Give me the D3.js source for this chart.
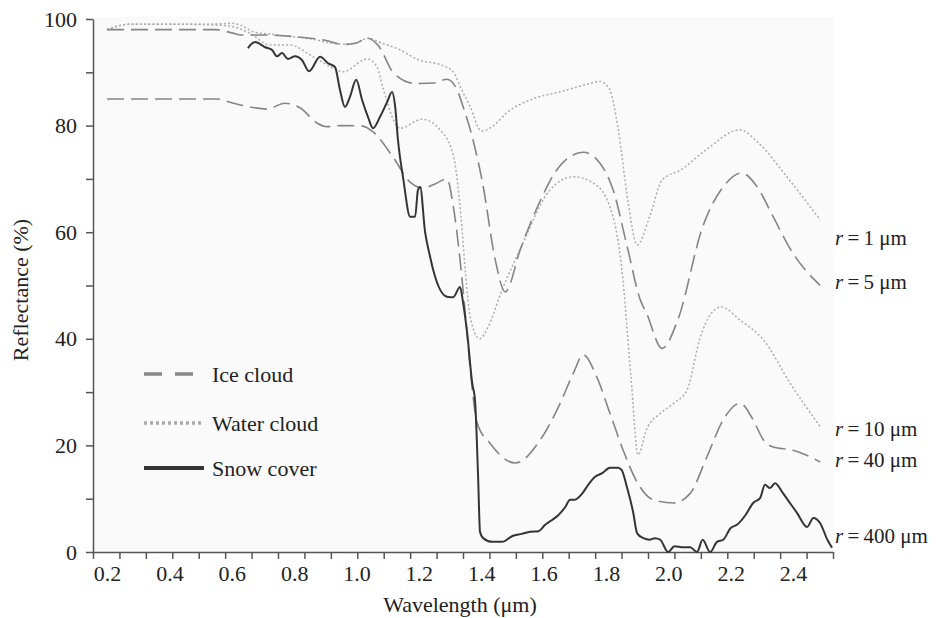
<!DOCTYPE html>
<meta charset="utf-8">

<!-- Load d3.js -->
<script src="https://d3js.org/d3.v7.min.js"></script>

<style>
body { margin: 0; background: #ffffff; }
text { font-family: "Liberation Serif", "Times New Roman", serif; fill: #222; }
</style>

<!-- Create a div where the graph will take place -->
<div id="my_dataviz"></div>

<script>

// ---- data (wavelength in um, reflectance in %) ----

// water cloud, r = 1 um
var r1Wl  = [0.2, 0.27, 0.35, 0.45, 0.57, 0.6, 0.63, 0.67, 0.75, 0.85, 0.95, 1.0, 1.035, 1.08, 1.14, 1.2, 1.27, 1.31, 1.335, 1.365, 1.4, 1.44, 1.48, 1.57, 1.65, 1.73, 1.78, 1.81, 1.84, 1.87, 1.9, 1.94, 1.98, 2.04, 2.12, 2.23, 2.29, 2.38, 2.487];
var r1Val = [98, 99, 99, 99, 99.1, 99.2, 98.8, 97.6, 97, 96.3, 95.3, 95.5, 96.4, 95.5, 94.2, 92.3, 91.4, 90.1, 87, 83.5, 79, 80, 82.3, 85.1, 86.3, 87.6, 88.3, 87, 79, 66, 57.6, 62.9, 69.8, 71.7, 75.4, 79.2, 76.7, 70.4, 62.3];

// ice cloud, r = 5 um
var r5Wl  = [0.2, 0.3, 0.4, 0.5, 0.55, 0.6, 0.63, 0.7, 0.8, 0.9, 0.96, 1.0, 1.035, 1.07, 1.12, 1.19, 1.25, 1.29, 1.32, 1.345, 1.375, 1.405, 1.445, 1.477, 1.525, 1.59, 1.65, 1.727, 1.78, 1.823, 1.868, 1.91, 1.93, 1.98, 2.03, 2.11, 2.176, 2.236, 2.285, 2.336, 2.4, 2.487];
var r5Val = [98, 98, 98, 98, 98, 97.4, 97, 97, 96.7, 96, 95.2, 95.5, 96.4, 95, 89.8, 87.9, 88, 88.7, 87, 83, 77, 69, 54.8, 48.8, 56.7, 66, 72.3, 75, 73, 67.9, 57.3, 47.3, 44.8, 38.2, 43.5, 61, 68.5, 71.1, 68.5, 62.9, 56, 50];

// water cloud, r = 10 um
var r10Wl  = [0.2, 0.27, 0.35, 0.45, 0.57, 0.62, 0.659, 0.723, 0.787, 0.861, 0.925, 0.957, 1.034, 1.066, 1.085, 1.14, 1.21, 1.268, 1.31, 1.335, 1.35, 1.365, 1.395, 1.42, 1.467, 1.53, 1.62, 1.695, 1.76, 1.813, 1.85, 1.88, 1.903, 1.93, 1.974, 2.017, 2.06, 2.1, 2.134, 2.17, 2.23, 2.305, 2.39, 2.487];
var r10Val = [98, 99, 99, 99, 98.8, 98.3, 97.3, 95.1, 95.1, 92.9, 90.8, 90.1, 92.5, 91, 87, 79.5, 81.2, 79.2, 74.5, 63, 52, 44, 40, 42, 49.2, 57.5, 67.9, 70.4, 69.2, 64.7, 53.5, 33, 18.2, 23, 26, 27.9, 30.4, 39.8, 44.5, 46, 43.5, 39.8, 31.7, 23.5];

// ice cloud, r = 40 um
var r40Wl  = [0.2, 0.3, 0.4, 0.5, 0.55, 0.605, 0.65, 0.713, 0.77, 0.82, 0.873, 0.905, 0.95, 1.02, 1.053, 1.117, 1.172, 1.214, 1.25, 1.29, 1.31, 1.332, 1.35, 1.364, 1.387, 1.428, 1.509, 1.589, 1.653, 1.695, 1.727, 1.77, 1.813, 1.855, 1.9, 1.951, 2.017, 2.07, 2.124, 2.176, 2.23, 2.272, 2.305, 2.336, 2.4, 2.487];
var r40Val = [85, 85, 85, 85, 85, 84.2, 83.6, 83.1, 84.2, 83.3, 80.5, 79.8, 80, 79.9, 78.8, 74.1, 69.4, 68.3, 69, 70, 65, 54.8, 44, 34.7, 24.2, 20.4, 16.7, 21, 27.9, 33.5, 37, 32.9, 26, 19.1, 13.1, 9.8, 9.2, 11, 17.9, 24.8, 27.9, 24.8, 21, 19.7, 19.1, 16.9];

// snow cover, r = 400 um
var snowWl  = [0.652, 0.659, 0.675, 0.707, 0.729, 0.745, 0.761, 0.78, 0.803, 0.825, 0.848, 0.883, 0.909, 0.931, 0.947, 0.963, 0.979, 0.999, 1.018, 1.037, 1.053, 1.075, 1.098, 1.114, 1.124, 1.133, 1.15, 1.172, 1.188, 1.197, 1.204, 1.22, 1.236, 1.246, 1.29, 1.31, 1.332, 1.342, 1.355, 1.371, 1.38, 1.39, 1.396, 1.406, 1.435, 1.467, 1.5, 1.53, 1.557, 1.583, 1.605, 1.627, 1.647, 1.669, 1.685, 1.7, 1.723, 1.743, 1.765, 1.788, 1.813, 1.839, 1.85, 1.868, 1.887, 1.9, 1.92, 1.94, 1.957, 1.974, 1.999, 2.02, 2.047, 2.07, 2.092, 2.11, 2.134, 2.156, 2.176, 2.2, 2.22, 2.247, 2.272, 2.294, 2.31, 2.326, 2.342, 2.368, 2.39, 2.413, 2.445, 2.465, 2.487, 2.51, 2.525];
var snowVal = [94.5, 95.1, 95.7, 94.7, 94.2, 93, 93.6, 92.5, 93, 92.3, 90.2, 92.9, 91.7, 91, 86.7, 83.5, 85.4, 88.6, 84.8, 81.6, 79.5, 81.6, 84.4, 86.3, 83.5, 77.3, 70, 62.9, 62.9, 67.9, 68.5, 60, 55.4, 52.9, 47.9, 47.8, 49.7, 46.7, 41, 31.7, 28.5, 14, 3.8, 2.6, 1.9, 1.9, 3, 3.4, 3.8, 3.9, 5.1, 6, 6.9, 8.4, 9.8, 9.8, 10.9, 12.6, 14.1, 14.8, 15.8, 15.8, 15.4, 12, 7.5, 3.5, 2.6, 2.3, 2.6, 2.3, 0, 1.1, 0.9, 0.9, 0, 2.3, 0, 1.9, 2.3, 4.5, 5.1, 6.9, 9.2, 10.1, 12.6, 12, 12.9, 11, 9.2, 7.3, 4.7, 6.4, 5.4, 2.3, 0.8];

// axis labels
var xTickLabels = [0.2, 0.4, 0.6, 0.8, 1.0, 1.2, 1.4, 1.6, 1.8, 2.0, 2.2, 2.4];
var yTickLabels = [0, 20, 40, 60, 80, 100];
var yMinorTicks = [10, 30, 50, 70, 90];
var xRange = [0.155, 2.528];   // axis runs between these wavelengths
var xTickCount = 28;           // evenly spaced tick marks along it

// right-hand size labels (baseline, in % units)
var sizeLabels = ["1", "5", "10", "40", "400"];
var sizeLabelY = [57.6, 49.3, 21.8, 15.9, 1.7];

// legend entries
var legendNames = ["Ice cloud", "Water cloud", "Snow cover"];


// set the dimensions and margins of the graph
var margin = {top: 19, right: 103, bottom: 66, left: 93},
    width = 936 - margin.left - margin.right,
    height = 618 - margin.top - margin.bottom;

var svgRoot = d3.select("#my_dataviz")
  .append("svg")
    .attr("width", 936)
    .attr("height", 618);

var svg = svgRoot.append("g")
    .attr("transform", "translate(" + margin.left + "," + margin.top + ")");

// faint plot background
svg.append("rect")
  .attr("x", 0).attr("y", -2)
  .attr("width", width).attr("height", height + 2)
  .attr("fill", "#fafafa");

// scales
var x = d3.scaleLinear().domain(xRange).range([0, width]);
var y = d3.scaleLinear().domain([0, 100]).range([height, 0]);

// X axis: tick marks and labels are not aligned in the original
var xTicks = d3.range(xTickCount + 1).map(function(i) {
  return xRange[0] + i * (xRange[1] - xRange[0]) / xTickCount;
});
svg.append("g")
  .attr("transform", "translate(0," + height + ")")
  .call(d3.axisBottom(x).tickValues(xTicks).tickSize(7).tickSizeOuter(0).tickFormat(""));

svg.append("g")
  .attr("transform", "translate(0," + height + ")")
  .call(d3.axisBottom(x).tickValues(xTickLabels).tickSize(0).tickPadding(13)
        .tickFormat(d3.format(".1f")))
  .call(function(g) { g.select(".domain").remove(); });

// Y axis
svg.append("g")
  .call(d3.axisLeft(y).tickValues(yTickLabels).tickSize(7).tickSizeOuter(0).tickPadding(9));

svg.append("g")
  .call(d3.axisLeft(y).tickValues(yMinorTicks).tickSize(7).tickFormat(""))
  .call(function(g) { g.select(".domain").remove(); });

svg.selectAll(".domain, .tick line")
  .attr("stroke", "#555")
  .attr("stroke-width", 1.5);

svg.selectAll(".tick text")
  .style("font-family", "'Liberation Serif', serif")
  .style("font-size", "22px")
  .attr("fill", "#222");

// axis titles
svgRoot.append("text")
  .attr("text-anchor", "middle")
  .attr("x", 460)
  .attr("y", 612)
  .style("font-size", "22px")
  .text("Wavelength (\u03bcm)");

svgRoot.append("text")
  .attr("text-anchor", "middle")
  .attr("transform", "translate(28,290) rotate(-90)")
  .style("font-size", "22px")
  .text("Reflectance (%)");

// line styles
var styles = {
  ice:   {stroke: "#858585", width: 1.6, dash: "17,7"},
  water: {stroke: "#acacac", width: 1.5, dash: "2,2.2"},
  snow:  {stroke: "#353535", width: 2,   dash: null}
};

var line = d3.line()
  .x(function(d) { return x(d[0]); })
  .y(function(d) { return y(d[1]); })
  .curve(d3.curveMonotoneX);

function pairs(wl, val) {
  return wl.map(function(w, i) { return [w, val[i]]; });
}

var curves = [
  {pts: pairs(r1Wl, r1Val),     s: styles.water},
  {pts: pairs(r10Wl, r10Val),   s: styles.water},
  {pts: pairs(r5Wl, r5Val),     s: styles.ice},
  {pts: pairs(r40Wl, r40Val),   s: styles.ice},
  {pts: pairs(snowWl, snowVal), s: styles.snow}
];

svg.selectAll(".curve")
  .data(curves)
  .enter().append("path")
    .attr("class", "curve")
    .attr("fill", "none")
    .attr("stroke", function(d) { return d.s.stroke; })
    .attr("stroke-width", function(d) { return d.s.width; })
    .attr("stroke-dasharray", function(d) { return d.s.dash; })
    .attr("stroke-linejoin", "round")
    .attr("d", function(d) { return line(d.pts); });

// size labels at the right
var lab = svgRoot.selectAll(".rlab")
  .data(sizeLabels)
  .enter().append("text")
    .attr("class", "rlab")
    .attr("x", 835)
    .attr("y", function(d, i) { return margin.top + y(sizeLabelY[i]); })
    .style("font-size", "21px");
lab.append("tspan").style("font-style", "italic").text("r");
lab.append("tspan").text(function(d) { return "\u2009=\u2009" + d + " \u03bcm"; });

// legend
var legendStyles = [
  {stroke: "#888", width: 3.5, dash: "18,13"},
  {stroke: "#aaa", width: 3.5, dash: "3,3"},
  {stroke: "#333", width: 4,   dash: null}
];
var legendY = [374, 423, 468];

var legend = svgRoot.selectAll(".legend")
  .data(legendNames)
  .enter().append("g")
    .attr("class", "legend")
    .attr("transform", function(d, i) { return "translate(0," + legendY[i] + ")"; });

legend.append("line")
  .attr("x1", 144).attr("x2", 204)
  .attr("stroke", function(d, i) { return legendStyles[i].stroke; })
  .attr("stroke-width", function(d, i) { return legendStyles[i].width; })
  .attr("stroke-dasharray", function(d, i) { return legendStyles[i].dash; });

legend.append("text")
  .attr("x", 212)
  .attr("y", 8)
  .style("font-size", "22px")
  .text(function(d) { return d; });

</script>
